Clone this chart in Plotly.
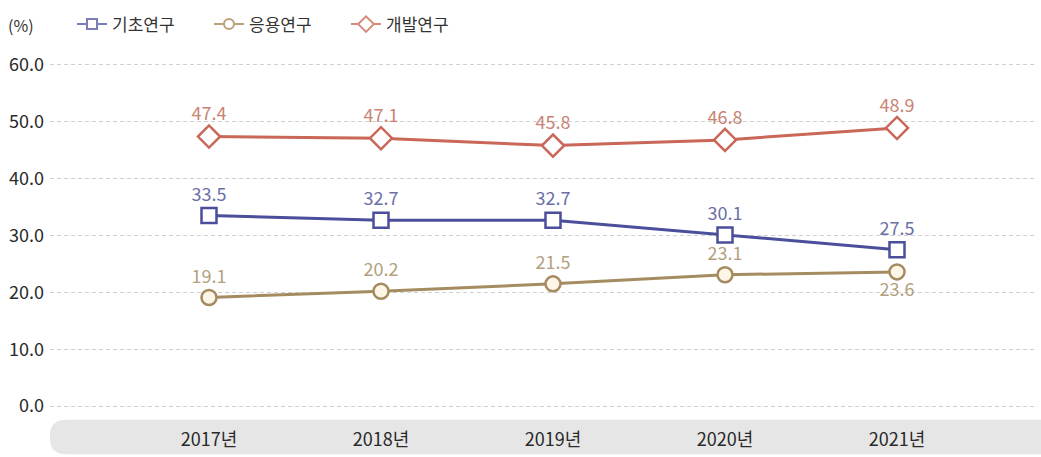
import plotly.graph_objects as go

years = ["2017년", "2018년", "2019년", "2020년", "2021년"]
basic = [33.5, 32.7, 32.7, 30.1, 27.5]
applied = [19.1, 20.2, 21.5, 23.1, 23.6]
development = [47.4, 47.1, 45.8, 46.8, 48.9]
y_ticks = [0, 10, 20, 30, 40, 50, 60]

W, H = 1041, 457
ML, MR, MT, MB = 50, 6, 59, 46
PW, PH = W - ML - MR, H - MT - MB
BASE = H - MB  # pixel row of paper y = 0

NUM_FONT = "Liberation Sans Narrow, Noto Sans CJK KR, sans-serif"
KR_FONT = "Noto Sans CJK KR, sans-serif"

fig = go.Figure()

series = [
    ("기초연구", basic, "#4a4e9b", "#6b6fa6", "square", "#ffffff", 15,
     ["top center"] * 5),
    ("응용연구", applied, "#a58b60", "#b39f80", "circle", "#fdf6e6", 15,
     ["top center"] * 4 + ["bottom center"]),
    ("개발연구", development, "#c96758", "#c98374", "diamond", "#ffffff", 17,
     ["top center"] * 5),
]

for name, vals, col, tcol, sym, fill, size, pos in series:
    fig.add_trace(go.Scatter(
        x=years, y=vals, name=name, showlegend=False,
        mode="lines+markers+text",
        line=dict(color=col, width=3),
        marker=dict(symbol=sym, size=size, color=fill,
                    line=dict(color=col, width=2.5)),
        text=[f"{v:.1f}" for v in vals],
        textposition=pos,
        textfont=dict(family=NUM_FONT, size=18, color=tcol),
        cliponaxis=False,
    ))

# legend keys with lighter, smaller symbols
legend_cols = ["#7a7db8", "#b9a27a", "#d9897c"]
for (name, _, _, _, sym, fill, _, _), lc in zip(series, legend_cols):
    fig.add_trace(go.Scatter(
        x=[None], y=[None], name=name, mode="lines+markers",
        line=dict(color=lc, width=2),
        marker=dict(symbol=sym, size=10 if sym != "diamond" else 12,
                    color="#ffffff", line=dict(color=lc, width=2)),
    ))

# grey band behind the year labels, rounded on the left
r_px = 16
rx, ry = r_px / PW, r_px / PH
y_top = -(422 - BASE) / PH
y_bot = -(H - BASE) / PH
x_l = 0.0
x_r = 1 + MR / PW
path = (f"M {x_l + rx},{y_top} L {x_r},{y_top} L {x_r},{y_bot} "
        f"L {x_l + rx},{y_bot} Q {x_l},{y_bot} {x_l},{y_bot + ry} "
        f"L {x_l},{y_top - ry} Q {x_l},{y_top} {x_l + rx},{y_top} Z")
fig.add_shape(type="path", path=path, xref="paper", yref="paper",
              fillcolor="#e6e6e6", line=dict(width=0), layer="below")

fig.add_annotation(text="(%)", xref="paper", yref="paper",
                   x=-(ML - 6) / PW, y=1 + (MT - 21) / PH,
                   xanchor="left", yanchor="middle", showarrow=False,
                   font=dict(family=NUM_FONT, size=16, color="#333333"))

x0_px = 209 - ML
step = 172
fig.update_xaxes(
    type="category",
    range=[-x0_px / step, -x0_px / step + PW / step],
    showgrid=False, zeroline=False, showline=False,
    ticks="", ticklabelstandoff=18,
    tickfont=dict(family=NUM_FONT, size=18, color="#2a2a2a"),
)
fig.update_yaxes(
    range=[-0.5, 60.5],
    tickvals=y_ticks, ticktext=[f"{v:.1f}" for v in y_ticks],
    showgrid=True, gridcolor="#cfcfcf", griddash="4px,3px", gridwidth=1,
    zeroline=False, showline=False, ticks="", ticklabelstandoff=5,
    tickfont=dict(family=NUM_FONT, size=18, color="#2a2a2a"),
)

fig.update_layout(
    width=W, height=H,
    margin=dict(l=ML, r=MR, t=MT, b=MB),
    paper_bgcolor="#ffffff", plot_bgcolor="#ffffff",
    showlegend=True,
    legend=dict(
        orientation="h", x=(72 - ML) / PW, y=1 + (MT - 21) / PH,
        xanchor="left", yanchor="middle",
        font=dict(family=KR_FONT, size=17, color="#333333"),
        itemwidth=30, entrywidth=92, entrywidthmode="pixels",
        bgcolor="rgba(0,0,0,0)",
    ),
)

fig.write_html("out.html")
